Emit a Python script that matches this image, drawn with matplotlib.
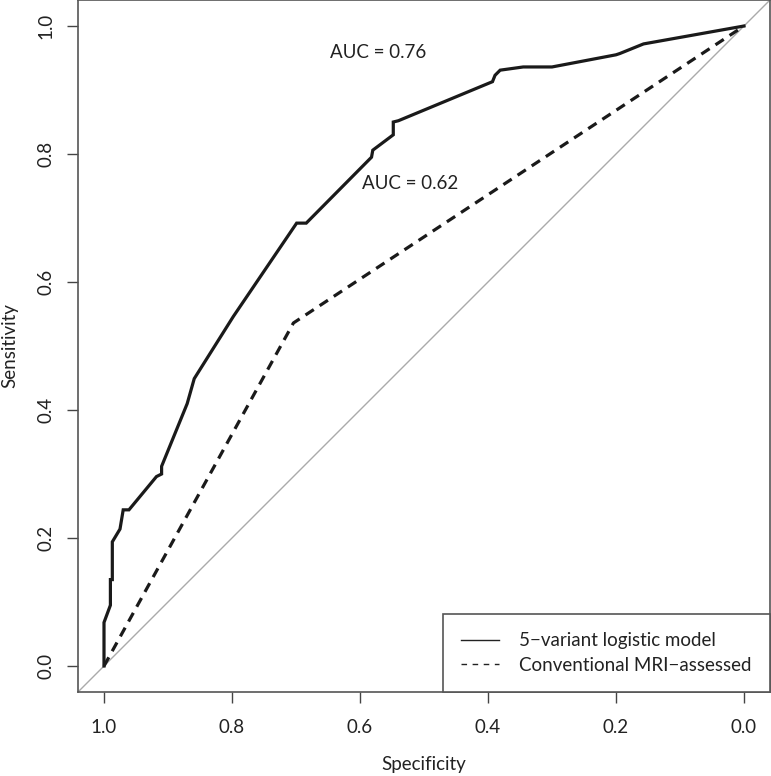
import matplotlib
matplotlib.use("Agg")
import matplotlib.pyplot as plt
from matplotlib.lines import Line2D

plt.rcParams['font.family'] = ['Lato', 'DejaVu Sans']
plt.rcParams['font.size'] = 13.5

# ROC curve of the 5-variant logistic model (specificity, sensitivity)
model_spec = [1.0, 1.0, 0.990, 0.990, 0.987, 0.987, 0.975, 0.970, 0.961, 0.918,
              0.910, 0.910, 0.870, 0.859, 0.798, 0.699, 0.684, 0.582, 0.580, 0.548,
              0.548, 0.540, 0.393, 0.389, 0.381, 0.345, 0.300, 0.200, 0.194, 0.157, 0.0]
model_sens = [0.0, 0.068, 0.095, 0.135, 0.135, 0.194, 0.214, 0.244, 0.244, 0.296,
              0.300, 0.312, 0.410, 0.449, 0.546, 0.692, 0.692, 0.795, 0.806, 0.830,
              0.850, 0.852, 0.913, 0.923, 0.931, 0.936, 0.936, 0.955, 0.957, 0.972, 1.0]

# ROC curve of the conventional MRI assessment
mri_spec = [1.0, 0.704, 0.0]
mri_sens = [0.0, 0.536, 1.0]

legend_labels = ["5\u2212variant logistic model", "Conventional MRI\u2212assessed"]
auc_labels = ["AUC = 0.76", "AUC = 0.62"]
ticks = [0.0, 0.2, 0.4, 0.6, 0.8, 1.0]

fig = plt.figure(figsize=(7.71, 7.76), dpi=100)
ax = fig.add_axes([78.4 / 771, (776 - 691.6) / 776, 691.2 / 771, 691.2 / 776])

# chance diagonal
ax.axline((1, 0), (0, 1), color='#aaaaaa', lw=1)
ax.plot(model_spec, model_sens, color='#1a1a1a', lw=2.3, solid_joinstyle='miter')
ax.plot(mri_spec, mri_sens, color='#1a1a1a', lw=2.3, linestyle=(0, (3.1, 2.2)))

ax.text(0.572, 0.958, auc_labels[0], ha='center', va='center', color='#222222')
ax.text(0.522, 0.754, auc_labels[1], ha='center', va='center', color='#222222')

ax.set_xlim(1.04, -0.04)
ax.set_ylim(-0.04, 1.04)
ax.set_xticks(ticks)
ax.set_yticks(ticks)
ax.set_xticklabels([f"{t:.1f}" for t in ticks])
ax.set_yticklabels([f"{t:.1f}" for t in ticks], rotation=90, va='center')
ax.tick_params(length=8, width=1, color='#444444', labelcolor='#222222')
ax.tick_params(axis='x', pad=12)
ax.tick_params(axis='y', pad=9)
for s in ax.spines.values():
    s.set_color('#555555')
    s.set_linewidth(1.2)

ax.set_xlabel("Specificity", color='#222222', labelpad=14)
ax.set_ylabel("Sensitivity", color='#222222', labelpad=14)

handles = [Line2D([], [], color='#222222', lw=1),
           Line2D([], [], color='#222222', lw=1, linestyle=(0, (4, 4)))]
leg = ax.legend(handles, legend_labels, loc='lower right', borderaxespad=0,
                fancybox=False, framealpha=1, edgecolor='#555555',
                handlelength=2.0, handletextpad=1.1, borderpad=0.95,
                labelspacing=0.4)
leg.get_frame().set_linewidth(1.2)
for t in leg.get_texts():
    t.set_color('#222222')

fig.savefig("out.png", dpi=100)
